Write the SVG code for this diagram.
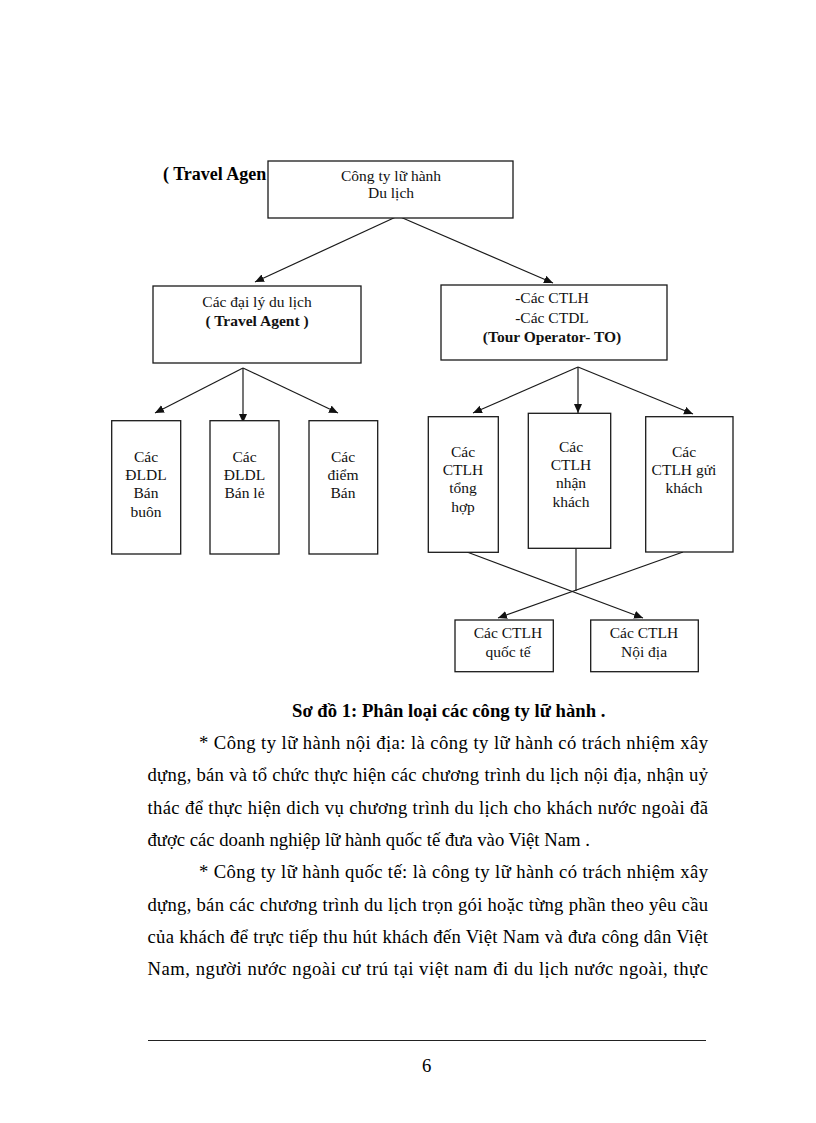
<svg xmlns="http://www.w3.org/2000/svg" width="816" height="1123" viewBox="0 0 816 1123">
<style>
  .box { fill: #ffffff; stroke: #1a1a1a; stroke-width: 1.3; }
  .t { font-family: "Liberation Serif", "Times New Roman", serif; font-size: 15.5px; fill: #111; text-anchor: middle; }
  .b { font-weight: bold; }
  .body { font-family: "Liberation Serif", "Times New Roman", serif; font-size: 18.67px; fill: #000; }
  .conn { stroke: #1a1a1a; stroke-width: 1.2; fill: none; }
  .arr { marker-end: url(#ah); }
</style>
<defs>
  <marker id="ah" markerUnits="userSpaceOnUse" markerWidth="10" markerHeight="9" refX="9" refY="4" orient="auto">
    <path d="M0,0 L9,4 L0,8 z" fill="#111"/>
  </marker>
</defs>
<rect width="816" height="1123" fill="#ffffff"/>

<text class="body b" x="163" y="180" style="font-size:18px">( Travel Agen</text>

<g id="connectors">
  <line class="conn arr" x1="398" y1="216" x2="255" y2="282"/>
  <line class="conn arr" x1="398" y1="216" x2="553" y2="283"/>
  <line class="conn arr" x1="243" y1="368" x2="155" y2="413"/>
  <line class="conn arr" x1="243" y1="368" x2="243" y2="423"/>
  <line class="conn arr" x1="243" y1="368" x2="338" y2="413"/>
  <line class="conn arr" x1="578" y1="367" x2="473" y2="413"/>
  <line class="conn arr" x1="578" y1="367" x2="578" y2="413"/>
  <line class="conn arr" x1="578" y1="367" x2="693" y2="414"/>
  <line class="conn arr" x1="467" y1="552" x2="643" y2="618"/>
  <line class="conn arr" x1="683" y1="552" x2="498" y2="618"/>
  <line class="conn" x1="576" y1="548" x2="576" y2="591"/>
</g>

<g id="n_root">
  <rect class="box" x="268" y="161" width="245" height="57"/>
  <text class="t" x="391" y="181">Công ty lữ hành</text>
  <text class="t" x="391" y="198">Du lịch</text>
</g>

<g id="n_agent">
  <rect class="box" x="153" y="286" width="208" height="77"/>
  <text class="t" x="257" y="307">Các đại lý du lịch</text>
  <text class="t b" x="257" y="325.5">( Travel Agent )</text>
</g>

<g id="n_operator">
  <rect class="box" x="441" y="285" width="226" height="75"/>
  <text class="t" x="552" y="303">-Các CTLH</text>
  <text class="t" x="552" y="323">-Các CTDL</text>
  <text class="t b" x="552" y="342">(Tour  Operator-  TO)</text>
</g>

<g id="n_buon">
  <rect class="box" x="111.7" y="420.7" width="69" height="133.3"/>
  <text class="t" x="146" y="461.7">Các</text>
  <text class="t" x="146" y="480">ĐLDL</text>
  <text class="t" x="146" y="498.3">Bán</text>
  <text class="t" x="146" y="516.7">buôn</text>
</g>

<g id="n_le">
  <rect class="box" x="210" y="420.7" width="69" height="133.3"/>
  <text class="t" x="244.5" y="461.7">Các</text>
  <text class="t" x="244.5" y="480">ĐLDL</text>
  <text class="t" x="244.5" y="498.3">Bán lẻ</text>
</g>

<g id="n_diem">
  <rect class="box" x="309" y="420.7" width="68.7" height="133.3"/>
  <text class="t" x="343" y="461.7">Các</text>
  <text class="t" x="343" y="480">điểm</text>
  <text class="t" x="343" y="498.3">Bán</text>
</g>

<g id="n_tonghop">
  <rect class="box" x="428.3" y="416.7" width="70" height="135.6"/>
  <text class="t" x="463" y="456.7">Các</text>
  <text class="t" x="463" y="475">CTLH</text>
  <text class="t" x="463" y="493.3">tổng</text>
  <text class="t" x="463" y="511.6">hợp</text>
</g>

<g id="n_nhan">
  <rect class="box" x="528.3" y="413.3" width="82.4" height="135"/>
  <text class="t" x="571" y="451.7">Các</text>
  <text class="t" x="571" y="470">CTLH</text>
  <text class="t" x="571" y="488.3">nhận</text>
  <text class="t" x="571" y="506.6">khách</text>
</g>

<g id="n_gui">
  <rect class="box" x="645.7" y="416.7" width="87.3" height="135.3"/>
  <text class="t" x="684" y="456.7">Các</text>
  <text class="t" x="684" y="475">CTLH gửi</text>
  <text class="t" x="684" y="493.3">khách</text>
</g>

<g id="n_quocte">
  <rect class="box" x="455" y="620" width="98.3" height="51.7"/>
  <text class="t" x="508" y="638.3">Các CTLH</text>
  <text class="t" x="508" y="656.7">quốc tế</text>
</g>

<g id="n_noidia">
  <rect class="box" x="590.7" y="620" width="107.6" height="51.7"/>
  <text class="t" x="644" y="638.3">Các CTLH</text>
  <text class="t" x="644" y="656.7">Nội địa</text>
</g>

<g id="page-text">
  <text class="body b" x="292" y="717">Sơ đồ 1: Phân loại các công ty lữ hành .</text>
  <text class="body" x="199" y="749" textLength="509" lengthAdjust="spacing">* Công ty lữ hành nội địa: là công ty lữ hành có trách nhiệm xây</text>
  <text class="body" x="147.5" y="781.3" textLength="560.5" lengthAdjust="spacing">dựng, bán và tổ chức thực hiện các chương trình du lịch nội địa, nhận uỷ</text>
  <text class="body" x="147.5" y="813.6" textLength="560.5" lengthAdjust="spacing">thác để thực hiện dich vụ chương trình du lịch cho khách nước ngoài đã</text>
  <text class="body" x="147.5" y="845.9">được các doanh nghiệp lữ hành quốc tế đưa vào Việt Nam .</text>
  <text class="body" x="199" y="878.2" textLength="509" lengthAdjust="spacing">* Công ty lữ hành quốc tế: là công ty lữ hành có trách nhiệm xây</text>
  <text class="body" x="147.5" y="910.5" textLength="560.5" lengthAdjust="spacing">dựng, bán các chương trình du lịch trọn gói hoặc từng phần theo yêu cầu</text>
  <text class="body" x="147.5" y="942.8" textLength="560.5" lengthAdjust="spacing">của khách để trực tiếp thu hút khách đến Việt Nam và đưa công dân Việt</text>
  <text class="body" x="147.5" y="975.1" textLength="560.5" lengthAdjust="spacing">Nam, người nước ngoài cư trú tại việt nam đi du lịch nước ngoài, thực</text>
  <line x1="148" y1="1040.5" x2="706" y2="1040.5" stroke="#222" stroke-width="1"/>
  <text class="body" x="426.7" y="1072.3" text-anchor="middle">6</text>
</g>
</svg>
